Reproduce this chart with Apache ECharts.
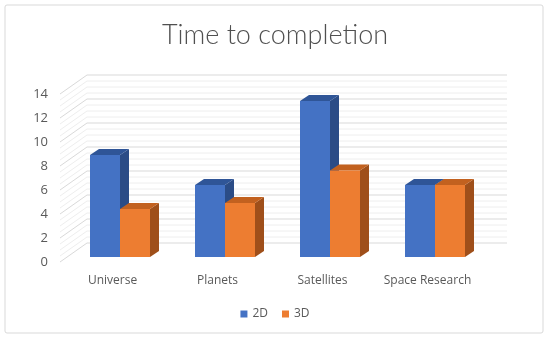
<!DOCTYPE html>
<html>
<head>
<meta charset="utf-8">
<script src="https://cdn.jsdelivr.net/npm/echarts@6/dist/echarts.min.js"></script>
<style>html,body{margin:0;padding:0;background:#fff;}#c{width:550px;height:340px;}</style>
</head>
<body>
<div id="c"></div>
<script>
const categories = ['Universe', 'Planets', 'Satellites', 'Space Research'];
const values2D = [8.5, 6, 13, 6];
const values3D = [4, 4.5, 7.2, 6];
const yTicks = ['0', '2', '4', '6', '8', '10', '12', '14'];

const WALL_DX = 27, WALL_DY = -19;   // back wall offset
const BAR_FX = 7.5, BAR_FY = -5;     // bar front face offset
const BAR_DX = 9, BAR_DY = -6;       // bar depth
const BAR_FRAC = 30 / 105;

const chart = echarts.init(document.getElementById('c'));

function wallRender(params, api) {
  const cs = params.coordSys;
  const children = [];
  for (let i = 0; i <= 28; i++) {
    const v = i * 0.5;
    const y = api.coord([0, v])[1];
    const major = (i % 4 === 0);
    const col = major ? '#D9D9D9' : '#EEEEEE';
    children.push({type: 'line', shape: {x1: cs.x, y1: y, x2: cs.x + WALL_DX, y2: y + WALL_DY},
      style: {stroke: col, lineWidth: 1}, z2: major ? 2 : 1});
    children.push({type: 'line', shape: {x1: cs.x + WALL_DX, y1: y + WALL_DY, x2: cs.x + cs.width + WALL_DX, y2: y + WALL_DY},
      style: {stroke: col, lineWidth: 1}, z2: major ? 2 : 1});
  }
  return {type: 'group', children: children};
}

function barRender(side, colors) {
  return function (params, api) {
    const idx = api.value(0);
    const top = api.coord([idx, api.value(1)]);
    const base = api.coord([idx, 0]);
    const band = api.size([1, 0])[0];
    const bw = band * BAR_FRAC;
    const x0 = top[0] + (side < 0 ? -bw : 0) + BAR_FX;
    const x1 = x0 + bw;
    const yT = top[1] + BAR_FY;
    const yB = base[1] + BAR_FY;
    return {type: 'group', children: [
      {type: 'polygon', shape: {points: [[x1, yT], [x1 + BAR_DX, yT + BAR_DY], [x1 + BAR_DX, yB + BAR_DY], [x1, yB]]},
        style: {fill: colors[2]}},
      {type: 'polygon', shape: {points: [[x0, yT], [x1, yT], [x1 + BAR_DX, yT + BAR_DY], [x0 + BAR_DX, yT + BAR_DY]]},
        style: {fill: colors[1]}},
      {type: 'rect', shape: {x: x0, y: yT, width: bw, height: yB - yT}, style: {fill: colors[0]}}
    ]};
  };
}

const BLUE = ['#4472C4', '#2F5597', '#2B4C86'];
const ORANGE = ['#ED7D31', '#C2611F', '#9F4F1A'];

chart.setOption({
  animation: false,
  backgroundColor: '#ffffff',
  title: {
    text: 'Time to completion', left: 'center', top: 17,
    textStyle: {fontFamily: 'Lato', fontSize: 27, fontWeight: 300, color: '#505050'}
  },
  graphic: [{type: 'rect', shape: {x: 5, y: 5, width: 538, height: 328, r: 2},
    style: {fill: 'none', stroke: '#D9D9D9', lineWidth: 1}, silent: true, z: -10}],
  legend: {
    bottom: 15, left: 'center', icon: 'rect', itemWidth: 7, itemHeight: 7, itemGap: 14,
    textStyle: {fontFamily: 'Open Sans', fontSize: 12, color: '#595959'},
    data: ['2D', '3D']
  },
  grid: {left: 60, right: 70, top: 94, bottom: 78},
  xAxis: {
    type: 'category', data: categories,
    axisLine: {show: false}, axisTick: {show: false},
    axisLabel: {interval: 0, margin: 13, fontFamily: 'Open Sans', fontSize: 12, color: '#595959'}
  },
  yAxis: {
    type: 'value', min: 0, max: 14, interval: 2,
    axisLine: {show: false}, axisTick: {show: false}, splitLine: {show: false},
    axisLabel: {margin: 12, fontFamily: 'Open Sans', fontSize: 13, color: '#595959',
      formatter: function (v) { return yTicks[Math.round(v / 2)]; }}
  },
  series: [
    {type: 'custom', name: 'walls', silent: true, renderItem: wallRender, data: [[0, 0]], z: 1},
    {type: 'custom', name: '2D', renderItem: barRender(-1, BLUE), itemStyle: {color: BLUE[0]},
      data: values2D.map((v, i) => [i, v]), encode: {x: 0, y: 1}, z: 2},
    {type: 'custom', name: '3D', renderItem: barRender(1, ORANGE), itemStyle: {color: ORANGE[0]},
      data: values3D.map((v, i) => [i, v]), encode: {x: 0, y: 1}, z: 3}
  ]
});
</script>
</body>
</html>
